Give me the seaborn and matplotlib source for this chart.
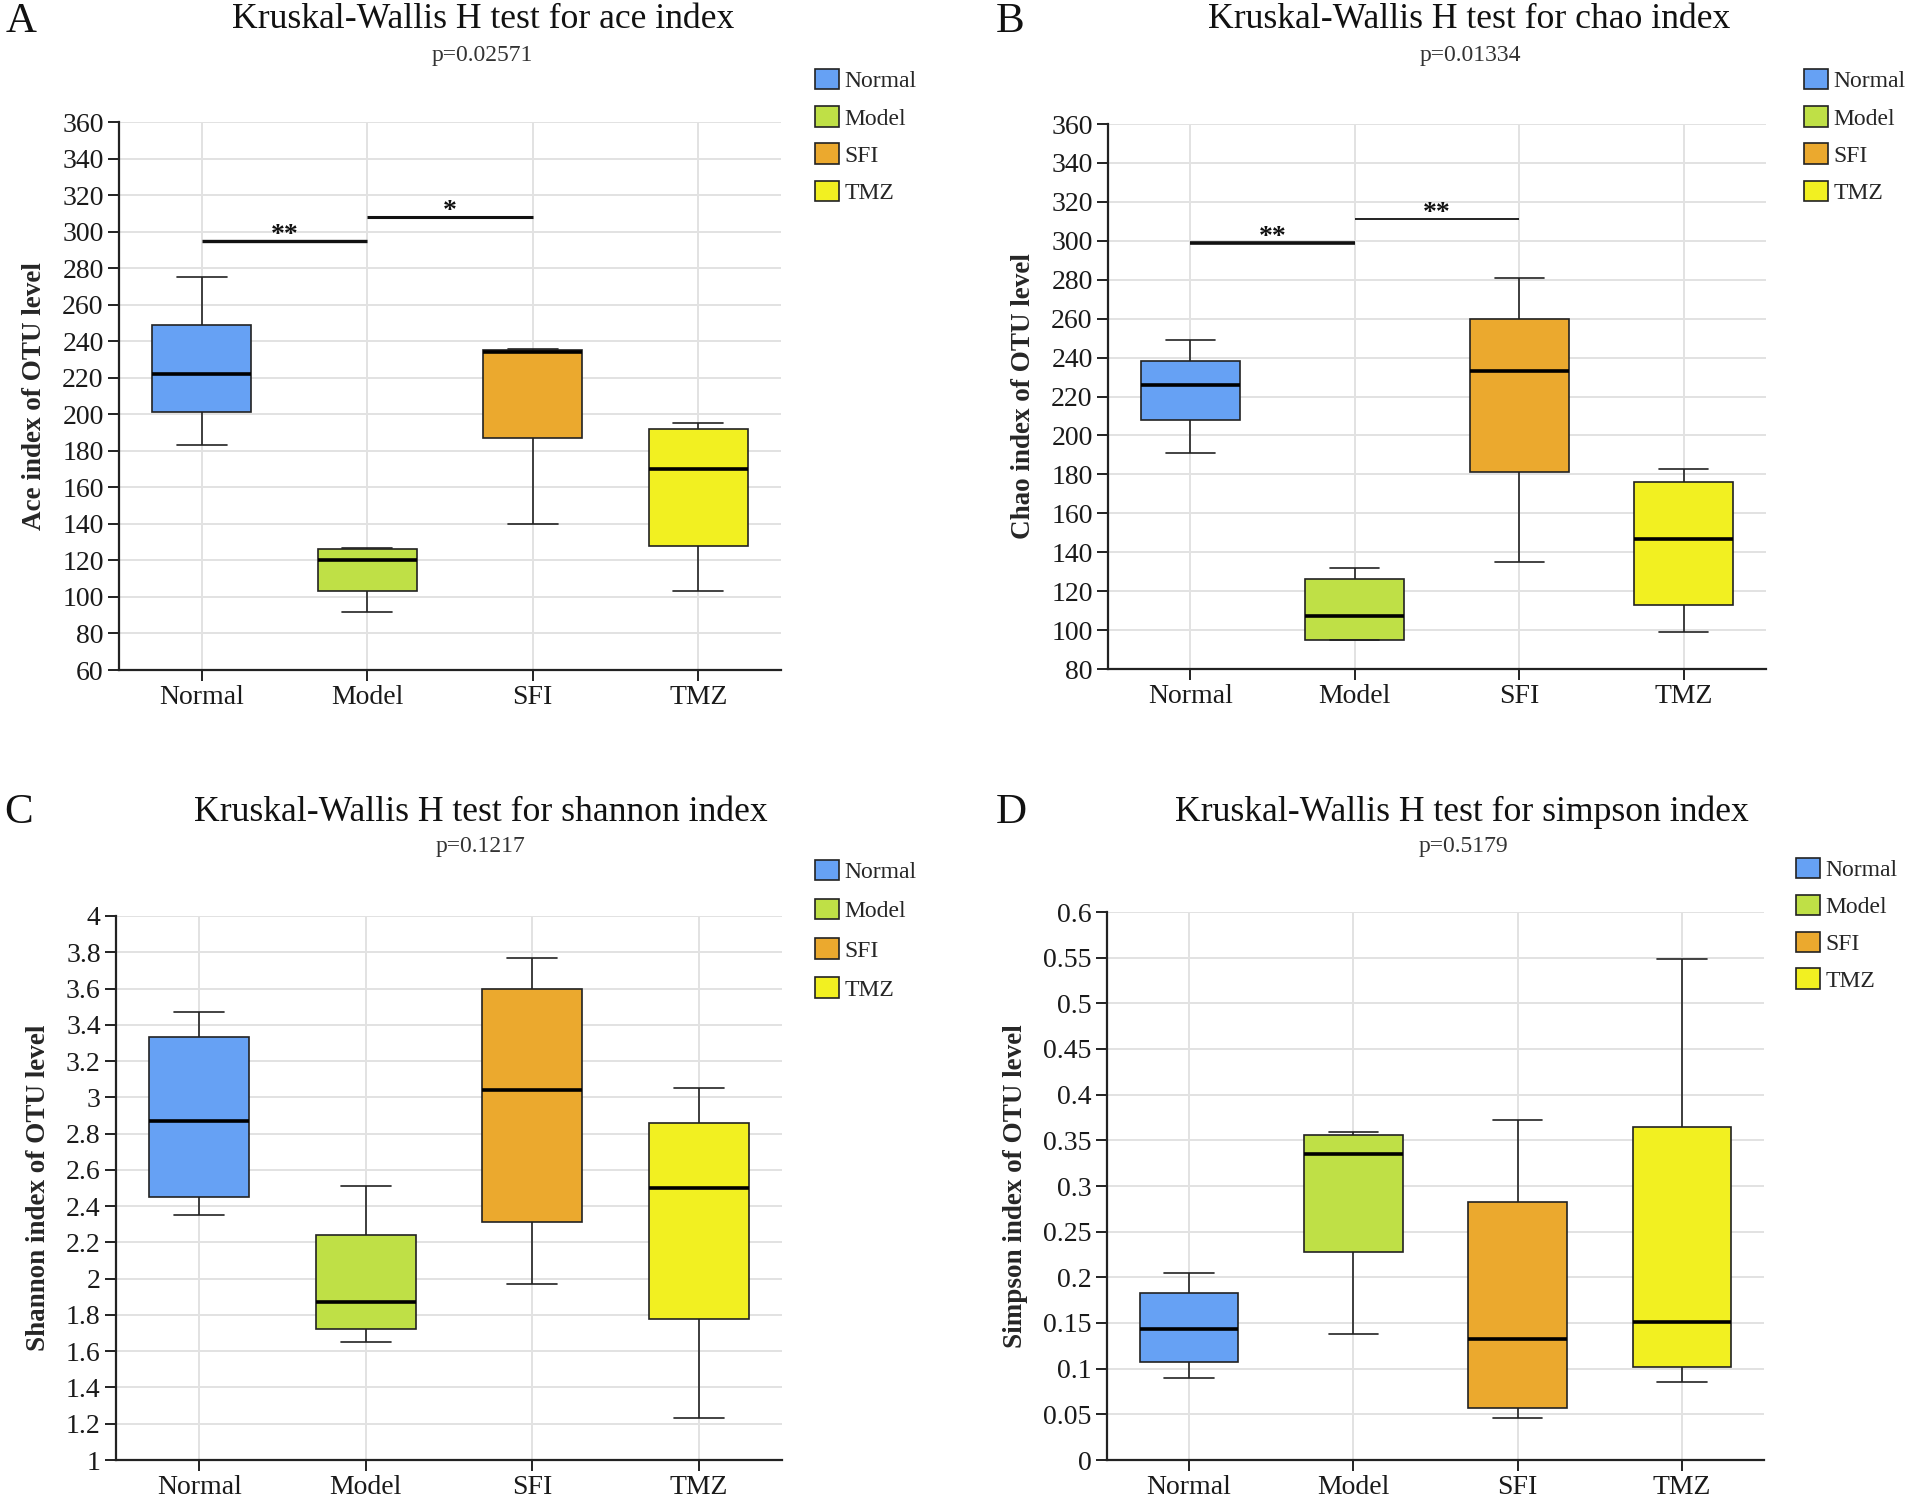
import numpy as np
import pandas as pd
import matplotlib
matplotlib.use("Agg")
import matplotlib.pyplot as plt
import seaborn as sns
from matplotlib.patches import Patch
from matplotlib.ticker import FixedLocator, FixedFormatter

# ---------------- data ----------------
groups = ["Normal", "Model", "SFI", "TMZ"]
colors = ["#66a1f4", "#bfe046", "#eba92e", "#f2f021"]

# five-number summaries: [lower whisker, Q1, median, Q3, upper whisker]
ace_normal = [183, 201, 222, 249, 275]
ace_model = [92, 103, 120, 126, 127]
ace_sfi = [140, 187, 234, 235, 236]
ace_tmz = [103, 128, 170, 192, 195]

chao_normal = [191, 208, 226, 238, 249]
chao_model = [95, 95, 107, 126, 132]
chao_sfi = [135, 181, 233, 260, 281]
chao_tmz = [99, 113, 147, 176, 183]

shannon_normal = [2.35, 2.45, 2.87, 3.33, 3.47]
shannon_model = [1.65, 1.72, 1.87, 2.24, 2.51]
shannon_sfi = [1.97, 2.31, 3.04, 3.60, 3.77]
shannon_tmz = [1.23, 1.78, 2.50, 2.86, 3.05]

simpson_normal = [0.090, 0.107, 0.143, 0.183, 0.205]
simpson_model = [0.138, 0.228, 0.335, 0.356, 0.359]
simpson_sfi = [0.046, 0.057, 0.132, 0.283, 0.372]
simpson_tmz = [0.085, 0.102, 0.151, 0.365, 0.548]

titles = ["Kruskal-Wallis H test for ace index",
          "Kruskal-Wallis H test for chao index",
          "Kruskal-Wallis H test for shannon index",
          "Kruskal-Wallis H test for simpson index"]
pvalues = ["p=0.02571", "p=0.01334", "p=0.1217", "p=0.5179"]
ylabels = ["Ace index of OTU level", "Chao index of OTU level",
           "Shannon index of OTU level", "Simpson index of OTU level"]
panel_letters = ["A", "B", "C", "D"]

ace_ticks = [60, 80, 100, 120, 140, 160, 180, 200, 220, 240, 260, 280, 300, 320, 340, 360]
chao_ticks = [80, 100, 120, 140, 160, 180, 200, 220, 240, 260, 280, 300, 320, 340, 360]
shannon_ticks = [1, 1.2, 1.4, 1.6, 1.8, 2, 2.2, 2.4, 2.6, 2.8, 3, 3.2, 3.4, 3.6, 3.8, 4]
simpson_ticks = [0, 0.05, 0.1, 0.15, 0.2, 0.25, 0.3, 0.35, 0.4, 0.45, 0.5, 0.55, 0.6]

# significance bars
ace_sig_from = ["Normal", "Model"]
ace_sig_to = ["Model", "SFI"]
ace_sig_y = [295, 308]
ace_sig_text = ["**", "*"]
chao_sig_from = ["Normal", "Model"]
chao_sig_to = ["Model", "SFI"]
chao_sig_y = [299, 311]
chao_sig_text = ["**", "**"]

panel_values = [
    [ace_normal, ace_model, ace_sfi, ace_tmz],
    [chao_normal, chao_model, chao_sfi, chao_tmz],
    [shannon_normal, shannon_model, shannon_sfi, shannon_tmz],
    [simpson_normal, simpson_model, simpson_sfi, simpson_tmz],
]
panel_ticks = [ace_ticks, chao_ticks, shannon_ticks, simpson_ticks]
panel_sigs = [
    (ace_sig_from, ace_sig_to, ace_sig_y, ace_sig_text, [2.4, 2.2]),
    (chao_sig_from, chao_sig_to, chao_sig_y, chao_sig_text, [2.6, 1.3]),
    None, None,
]

# ---------------- style ----------------
sns.set_style("whitegrid", {"grid.color": "#e2e2e2", "axes.edgecolor": "#222222"})
plt.rcParams["font.family"] = "serif"
plt.rcParams["font.serif"] = ["Liberation Serif", "DejaVu Serif"]
plt.rcParams["axes.linewidth"] = 1.5

W, H = 1908, 1501
fig = plt.figure(figsize=(W / 100, H / 100), dpi=100)

# axes rectangles in pixels: left, right, top, bottom
rects = [(119, 781, 122, 670), (1108, 1766, 124, 669),
         (116, 782, 916, 1460), (1107, 1764, 912, 1460)]
title_pos = [(483, 20), (1469, 20), (481, 812), (1462, 812)]
p_pos = [(482, 56), (1470, 56), (481, 847), (1463, 847)]
letter_pos = [(6, 22), (996, 22), (4, 813), (996, 813)]
legend_pos = [(815, 69), (1804, 69), (815, 860), (1796, 858)]
legend_spacing = [0.59, 0.59, 0.67, 0.57]

def fx(x):
    return x / W

def fy(y):
    return 1 - y / H

for i in range(4):
    l, r, t, b = rects[i]
    ax = fig.add_axes([fx(l), fy(b), (r - l) / W, (b - t) / H])
    vals = panel_values[i]
    df = pd.DataFrame({
        "group": np.repeat(groups, [len(v) for v in vals]),
        "value": np.concatenate([np.asarray(v, dtype=float) for v in vals]),
    })
    sns.boxplot(data=df, x="group", y="value", hue="group", order=groups,
                hue_order=groups, palette=colors, saturation=1, width=0.6,
                whis=(0, 100), linecolor="#222222", linewidth=1.2, legend=False,
                ax=ax, medianprops={"color": "black", "linewidth": 2.6},
                showfliers=False)
    ticks = panel_ticks[i]
    ax.set_ylim(ticks[0], ticks[-1])
    ax.set_xlim(-0.5, 3.5)
    ax.yaxis.set_major_locator(FixedLocator(ticks))
    ax.yaxis.set_major_formatter(FixedFormatter([f"{np.round(v, 4):g}" for v in ticks]))
    ax.grid(True, axis="both", color="#e2e2e2", linewidth=1.4)
    ax.set_axisbelow(True)
    for s in ["top", "right"]:
        ax.spines[s].set_visible(False)
    for s in ["left", "bottom"]:
        ax.spines[s].set_color("#222222")
        ax.spines[s].set_linewidth(1.6)
    ax.tick_params(axis="both", which="major", direction="out", length=8,
                   width=1.4, color="#222222", labelsize=20, labelcolor="#1a1a1a",
                   left=True, bottom=True, pad=3)
    for lab in ax.get_xticklabels() + ax.get_yticklabels():
        lab.set_family("serif")
    ax.set_xlabel("")
    ax.set_ylabel(ylabels[i], fontsize=19.5, fontweight="bold", labelpad=11,
                  family="serif")

    sig = panel_sigs[i]
    if sig is not None:
        sfrom, sto, sy, stext, slw = sig
        for a, bb, yv, txt, lw in zip(sfrom, sto, sy, stext, slw):
            xa, xb = groups.index(a), groups.index(bb)
            ax.plot([xa, xb], [yv, yv], color="#111111", linewidth=lw,
                    solid_capstyle="butt")
            ax.annotate(txt, xy=((xa + xb) / 2, yv), xytext=(0, -5),
                        textcoords="offset points", ha="center", va="bottom",
                        fontsize=20, fontweight="bold", color="#111111",
                        family="serif")

    handles = [Patch(facecolor=c, edgecolor="#222222", linewidth=1.2) for c in colors]
    lx, ly = legend_pos[i]
    ax.legend(handles, groups, loc="upper left", bbox_to_anchor=(fx(lx), fy(ly)),
              bbox_transform=fig.transFigure, frameon=False, borderpad=0,
              borderaxespad=0, handlelength=1.0, handleheight=0.95,
              handletextpad=0.25, labelspacing=legend_spacing[i],
              prop={"family": "serif", "size": 17})

    tx, ty = title_pos[i]
    fig.text(fx(tx), fy(ty), titles[i], ha="center", va="center", fontsize=25.7,
             color="#111111", family="serif")
    px_, py_ = p_pos[i]
    fig.text(fx(px_), fy(py_), pvalues[i], ha="center", va="center", fontsize=17,
             color="#333333", family="serif")
    lx2, ly2 = letter_pos[i]
    fig.text(fx(lx2), fy(ly2), panel_letters[i], ha="left", va="center",
             fontsize=31, color="#111111", family="serif")

fig.savefig("out.png", dpi=100, facecolor="white")
